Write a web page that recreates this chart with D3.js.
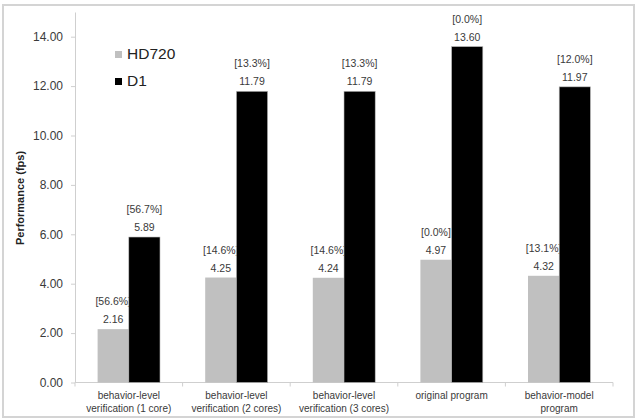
<!DOCTYPE html>
<html>
<head>
<meta charset="utf-8">
<script src="https://cdn.jsdelivr.net/npm/d3@7"></script>
<style>
  body { margin: 0; background: #fff; }
  svg { font-family: "Liberation Sans", Arial, sans-serif; }
</style>
</head>
<body>
<svg id="chart" width="638" height="420"></svg>
<script>
// данные диаграммы
const categories = [
    ["behavior-level", "verification (1 core)"],
    ["behavior-level", "verification (2 cores)"],
    ["behavior-level", "verification (3 cores)"],
    ["original program"],
    ["behavior-model", "program"]
];
const seriesNames = ["HD720", "D1"];
const hd720 = [2.16, 4.25, 4.24, 4.97, 4.32];
const d1 = [5.89, 11.79, 11.79, 13.60, 11.97];
const hd720Pct = ["56.6", "14.6", "14.6", "0.0", "13.1"];
const d1Pct = ["56.7", "13.3", "13.3", "0.0", "12.0"];
const yTicks = [0, 2, 4, 6, 8, 10, 12, 14];
const colors = ["#c0c0c0", "#000000"];
const textColor = "#3a3a3a";

const svg = d3.select("#chart");

// рамка вокруг всей диаграммы
svg.append("rect")
    .attr("x", 3).attr("y", 5)
    .attr("width", 631).attr("height", 412)
    .attr("fill", "none")
    .attr("stroke", "#d4d4d4")
    .attr("stroke-width", 2);

let marginLeft = 75, plotRight = 613;
let plotTop = 12, plotBottom = 382.5;

let scaleX = d3.scaleBand()
    .domain(d3.range(categories.length))
    .range([marginLeft, plotRight]);
let scaleY = d3.scaleLinear()
    .domain([0, 15])
    .range([plotBottom, plotTop]);

let barW = scaleX.bandwidth() * 0.29;

// ось Y
let axisY = d3.axisLeft(scaleY)
    .tickValues(yTicks)
    .tickFormat(d3.format(".2f"))
    .tickSize(4)
    .tickSizeOuter(0);
let gy = svg.append("g")
    .attr("transform", `translate(${marginLeft},0)`)
    .call(axisY);
gy.select(".domain").attr("stroke", "#cfcfcf");
gy.selectAll(".tick line").attr("stroke", "#cfcfcf");
gy.selectAll(".tick text")
    .attr("x", -12)
    .attr("fill", textColor)
    .style("font-size", "12px");

// ось X
svg.append("line")
    .attr("x1", marginLeft).attr("x2", plotRight)
    .attr("y1", plotBottom).attr("y2", plotBottom)
    .attr("stroke", "#cfcfcf");
svg.selectAll(".xtick")
    .data(d3.range(categories.length + 1))
    .enter()
    .append("line")
    .attr("x1", i => marginLeft + i * scaleX.step())
    .attr("x2", i => marginLeft + i * scaleX.step())
    .attr("y1", plotBottom).attr("y2", plotBottom + 4)
    .attr("stroke", "#cfcfcf");

// подписи категорий
categories.forEach((lines, i) => {
    let t = svg.append("text")
        .attr("text-anchor", "middle")
        .attr("fill", textColor)
        .style("font-size", "10px");
    lines.forEach((l, k) => {
        t.append("tspan")
            .attr("x", scaleX(i) + scaleX.bandwidth() / 2)
            .attr("y", 399 + k * 12.5)
            .text(l);
    });
});

// столбцы
const series = [
    { values: hd720, pct: hd720Pct, off: -barW },
    { values: d1, pct: d1Pct, off: 0 }
];
series.forEach((s, si) => {
    let cx = i => scaleX(i) + scaleX.bandwidth() / 2 + s.off;
    svg.selectAll(".bar" + si)
        .data(s.values)
        .enter()
        .append("rect")
        .attr("x", (d, i) => cx(i))
        .attr("y", d => scaleY(d))
        .attr("width", barW)
        .attr("height", d => plotBottom - scaleY(d))
        .attr("fill", colors[si])
        .attr("stroke", si === 1 ? "#bbb" : "none")
        .attr("stroke-width", 0.6);
    svg.selectAll(".val" + si)
        .data(s.values)
        .enter()
        .append("text")
        .attr("x", (d, i) => cx(i) + barW / 2)
        .attr("y", d => scaleY(d) - 6)
        .attr("text-anchor", "middle")
        .attr("fill", textColor)
        .style("font-size", "10.5px")
        .text(d => d.toFixed(2));
    svg.selectAll(".pct" + si)
        .data(s.values)
        .enter()
        .append("text")
        .attr("x", (d, i) => cx(i) + barW / 2)
        .attr("y", d => scaleY(d) - 24)
        .attr("text-anchor", "middle")
        .attr("fill", textColor)
        .style("font-size", "10.5px")
        .text((d, i) => `[${s.pct[i]}%]`);
});

// подпись оси Y
svg.append("text")
    .attr("transform", `translate(24,198) rotate(-90)`)
    .attr("text-anchor", "middle")
    .attr("fill", "#222")
    .style("font-size", "11px")
    .style("font-weight", "bold")
    .text("Performance (fps)");

// легенда
seriesNames.forEach((name, i) => {
    let y = 51 + i * 27;
    svg.append("rect")
        .attr("x", 115).attr("y", y)
        .attr("width", 7).attr("height", 7)
        .attr("fill", colors[i]);
    svg.append("text")
        .attr("x", 127).attr("y", y + 7.5)
        .attr("fill", "#222")
        .style("font-size", "15.5px")
        .text(name);
});
</script>
</body>
</html>
